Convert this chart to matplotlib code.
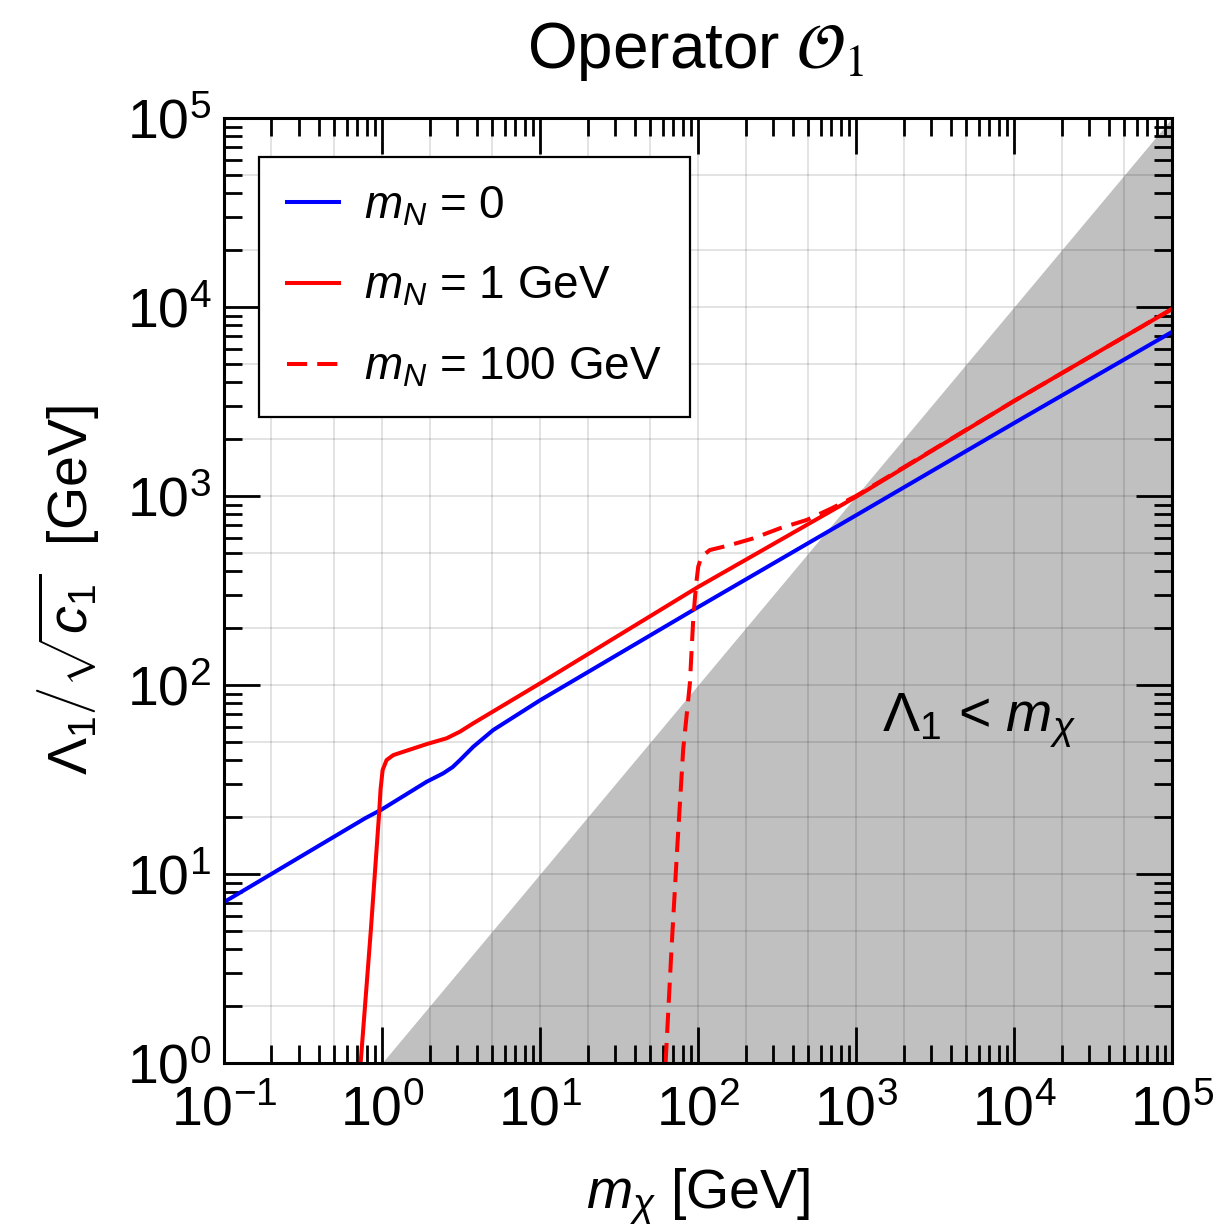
import matplotlib.pyplot as plt
from matplotlib.ticker import LogLocator, NullFormatter

plt.rcParams['font.family'] = ['Liberation Sans', 'DejaVu Sans']
plt.rcParams['mathtext.fontset'] = 'custom'
plt.rcParams['mathtext.rm'] = 'Liberation Sans'
plt.rcParams['mathtext.it'] = 'Liberation Sans:italic'
plt.rcParams['mathtext.bf'] = 'Liberation Sans:bold'
plt.rcParams['mathtext.sf'] = 'Liberation Sans'

# m_N = 0
m_blue = [0.1, 0.78, 1.0, 1.92, 2.44, 2.8, 3.12, 3.79, 5.06, 10, 100, 1000, 1e4, 1e5]
lam_blue = [7.1, 19.7, 22, 30.8, 34.1, 36.8, 40.1, 47.2, 57.8, 83, 258, 790, 2430, 7380]

# m_N = 1 GeV
m_red = [0.733, 0.85, 0.96, 0.98, 1.01, 1.07, 1.18, 1.37, 1.92, 2.57, 3.12, 3.79,
         10, 100, 1000, 1e4, 1e5]
lam_red = [1.0, 5.0, 21, 28, 35.5, 40.1, 42.6, 44.4, 48.7, 52.3, 56.7, 62.8,
           102, 330, 990, 3180, 9760]

# m_N = 100 GeV
m_dash = [62.4, 68, 73.8, 80.7, 88.9, 93.3, 97.0, 100.4, 105.4, 119, 159.5, 224,
          330, 488, 700, 1000, 1e4, 1e5]
lam_dash = [1.0, 4.0, 13.4, 46, 102, 221, 331, 423, 478, 518, 550, 597,
            675, 747, 860, 1000, 3180, 9760]

fig = plt.figure(figsize=(12.17, 12.29), dpi=100)
ax = fig.add_axes([0.184, 0.135, 0.779, 0.769])

# excluded region Lambda < m_chi
ax.fill_between([1, 1e5], [1, 1], [1, 1e5], color='#c0c0c0', lw=0, zorder=0)

# grid at 1, 2, 5 per decade
for k in range(-1, 5):
    for s in [1, 2, 5]:
        v = s * 10.0**k
        if 0.1 < v < 1e5:
            ax.axvline(v, color='k', alpha=0.12, lw=1.3, zorder=0.5)
for k in range(0, 5):
    for s in [1, 2, 5]:
        v = s * 10.0**k
        if 1 < v < 1e5:
            ax.axhline(v, color='k', alpha=0.12, lw=1.3, zorder=0.5)

ax.plot(m_blue, lam_blue, color='#0000ff', lw=2.9, label=r'$m_N$ = 0', zorder=3)
ax.plot(m_red, lam_red, color='#ff0000', lw=2.9, label=r'$m_N$ = 1 GeV', zorder=3)
ax.plot(m_dash, lam_dash, color='#ff0000', lw=2.9, dashes=(5, 2.5),
        label=r'$m_N$ = 100 GeV', zorder=4)

ax.set_xscale('log')
ax.set_yscale('log')
ax.set_xlim(0.1, 1e5)
ax.set_ylim(1, 1e5)

for axis in [ax.xaxis, ax.yaxis]:
    axis.set_major_locator(LogLocator(base=10, numticks=20))
    axis.set_minor_locator(LogLocator(base=10, subs=range(2, 10), numticks=20))
    axis.set_minor_formatter(NullFormatter())

ax.tick_params(which='major', direction='in', length=26, width=2, top=True,
               right=True, labelsize=40)
ax.tick_params(axis='x', which='major', pad=16)
ax.tick_params(axis='y', which='major', pad=9)
ax.tick_params(which='minor', direction='in', length=13, width=2, top=True,
               right=True)
for sp in ax.spines.values():
    sp.set_linewidth(2.2)
    sp.set_zorder(5)

ax.text(6000, 57, r'$\Lambda_1$ < $m_\chi$', fontsize=40, ha='center', va='baseline')

ax.set_xlabel(r'$m_\chi$ [GeV]', fontsize=40, labelpad=21)
ax.set_ylabel(r'$\Lambda_1\left/\sqrt{c_1}\right.$  [GeV]', fontsize=40, labelpad=18)

fig.text(0.572, 1 - 68 / 1229, r'Operator $\mathcal{O}_1$', ha='center', va='baseline',
         fontsize=46, math_fontfamily='stix')

leg = ax.legend(loc='upper left', bbox_to_anchor=(0.037, 0.959), borderaxespad=0,
                fontsize=33, frameon=True, fancybox=False, framealpha=1,
                edgecolor='k', handlelength=1.15, handletextpad=0.55,
                borderpad=0.6, labelspacing=0.8)
leg.get_frame().set_linewidth(1.6)
leg.set_zorder(6)

fig.savefig('out.png', dpi=100)
